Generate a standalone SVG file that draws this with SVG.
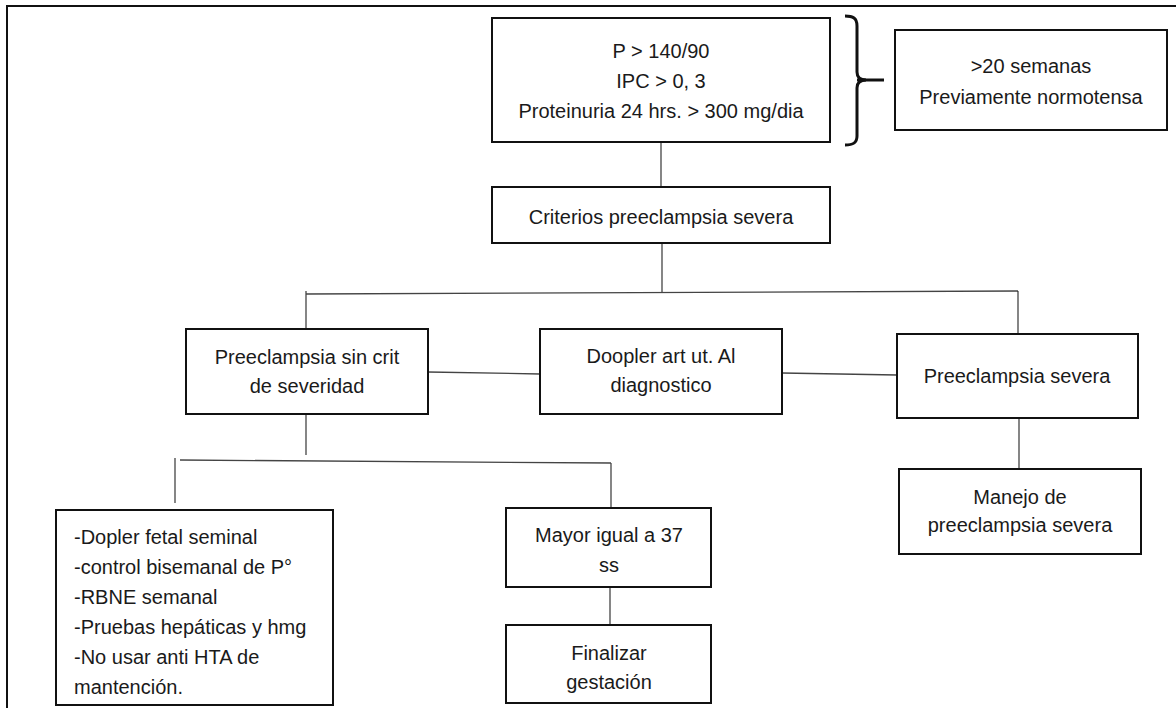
<svg xmlns="http://www.w3.org/2000/svg" width="1176" height="708" viewBox="0 0 1176 708">
<style>
.box{fill:#fff;stroke:#111;stroke-width:2}
.t{font-family:"Liberation Sans",Arial,sans-serif;font-size:20px;fill:#1a1a1a;text-anchor:middle}
.tl{font-family:"Liberation Sans",Arial,sans-serif;font-size:20px;fill:#1a1a1a;text-anchor:start}
.c{stroke:#444;stroke-width:1.3;fill:none}
.frame{stroke:#111;stroke-width:2;fill:none}
</style>
<rect width="1176" height="708" fill="#fff"/>
<path class="frame" d="M7,708 L7,6 L1176,6"/>
<g id="connectors">
<line class="c" x1="661" y1="142" x2="661" y2="187"/>
<line class="c" x1="662" y1="243" x2="662" y2="292"/>
<line class="c" x1="306" y1="294" x2="1018" y2="291"/>
<line class="c" x1="306" y1="291" x2="306" y2="329"/>
<line class="c" x1="1018" y1="291" x2="1018" y2="334"/>
<line class="c" x1="428" y1="372" x2="540" y2="374"/>
<line class="c" x1="782" y1="373" x2="897" y2="375"/>
<line class="c" x1="306" y1="414" x2="306" y2="455"/>
<line class="c" x1="180" y1="460" x2="611" y2="463"/>
<line class="c" x1="175" y1="458" x2="175" y2="503"/>
<line class="c" x1="611" y1="463" x2="611" y2="508"/>
<line class="c" x1="1019" y1="418" x2="1019" y2="469"/>
<line class="c" x1="610" y1="587" x2="610" y2="625"/>
</g>
<g id="bracket">
<path d="M845,16 C853,16 857,18 857,26 L857,72 C857,77 860,80 866,80 C860,80 857,83 857,88 L857,136 C857,143 853,145 845,145" fill="none" stroke="#111" stroke-width="3"/>
<line x1="857" y1="80" x2="884" y2="80" stroke="#111" stroke-width="3"/>
</g>
<g id="n-criteria">
<rect class="box" x="492" y="18" width="338" height="124"/>
<text class="t" x="661" y="58">P &gt; 140/90</text>
<text class="t" x="661" y="88">IPC &gt; 0, 3</text>
<text class="t" x="661" y="118">Proteinuria 24 hrs. &gt; 300 mg/dia</text>
</g>
<g id="n-semanas">
<rect class="box" x="895" y="30" width="272" height="100"/>
<text class="t" x="1031" y="73">&gt;20 semanas</text>
<text class="t" x="1031" y="104">Previamente normotensa</text>
</g>
<g id="n-criterios-severa">
<rect class="box" x="492" y="187" width="338" height="56"/>
<text class="t" x="661" y="224">Criterios preeclampsia severa</text>
</g>
<g id="n-sin-crit">
<rect class="box" x="186" y="329" width="242" height="85"/>
<text class="t" x="307" y="364">Preeclampsia sin crit</text>
<text class="t" x="307" y="393">de severidad</text>
</g>
<g id="n-doopler">
<rect class="box" x="540" y="329" width="242" height="85"/>
<text class="t" x="661" y="363">Doopler art ut. Al</text>
<text class="t" x="661" y="392">diagnostico</text>
</g>
<g id="n-severa">
<rect class="box" x="897" y="334" width="241" height="84"/>
<text class="t" x="1017" y="383">Preeclampsia severa</text>
</g>
<g id="n-manejo">
<rect class="box" x="899" y="469" width="242" height="85"/>
<text class="t" x="1020" y="504">Manejo de</text>
<text class="t" x="1020" y="532">preeclampsia severa</text>
</g>
<g id="n-control">
<rect class="box" x="56" y="510" width="277" height="195"/>
<text class="tl" x="74" y="544">-Dopler fetal seminal</text>
<text class="tl" x="74" y="574">-control bisemanal de P°</text>
<text class="tl" x="74" y="604">-RBNE semanal</text>
<text class="tl" x="74" y="634">-Pruebas hepáticas y hmg</text>
<text class="tl" x="74" y="664">-No usar anti HTA de</text>
<text class="tl" x="74" y="694">mantención.</text>
</g>
<g id="n-mayor">
<rect class="box" x="506" y="508" width="205" height="79"/>
<text class="t" x="609" y="542">Mayor igual a 37</text>
<text class="t" x="609" y="572">ss</text>
</g>
<g id="n-finalizar">
<rect class="box" x="506" y="625" width="205" height="78"/>
<text class="t" x="609" y="660">Finalizar</text>
<text class="t" x="609" y="689">gestación</text>
</g>
</svg>
